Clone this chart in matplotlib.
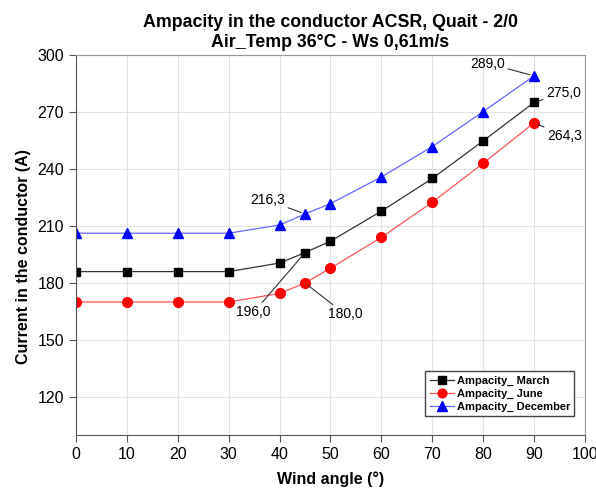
import matplotlib.pyplot as plt

plt.rcParams['font.family'] = ['Liberation Sans', 'DejaVu Sans']

# Data
angle = [0, 10, 20, 30, 40, 45, 50, 60, 70, 80, 90]
march = [186.0, 186.0, 186.0, 186.0, 190.5, 196.0, 202.0, 217.8, 235.0, 254.8, 275.0]
june = [170.0, 170.0, 170.0, 170.0, 174.5, 180.0, 187.8, 204.0, 222.5, 243.0, 264.3]
december = [206.2, 206.2, 206.2, 206.2, 210.5, 216.3, 221.8, 235.8, 251.8, 270.2, 289.0]

fig = plt.figure(figsize=(5.96, 4.9), dpi=100)
ax = fig.add_axes([0.1275, 0.1122, 0.854, 0.7756])

ax.plot(angle, march, color='#333333', lw=0.9, marker='s', ms=6, mfc='black', mec='black', label='Ampacity_ March')
ax.plot(angle, june, color='#ff5555', lw=0.9, marker='o', ms=7, mfc='red', mec='red', label='Ampacity_ June')
ax.plot(angle, december, color='#6666ff', lw=0.9, marker='^', ms=7.5, mfc='blue', mec='blue', label='Ampacity_ December')

ax.set_xlim(0, 100)
ax.set_ylim(100, 300)
ax.set_xticks(range(0, 101, 10))
ax.set_yticks(range(120, 301, 30))
ax.grid(True, color='#e3e3e3', lw=0.8)
ax.set_axisbelow(True)
for s in ax.spines.values():
    s.set_color('#999999')
ax.spines['left'].set_color('#555555')
ax.spines['bottom'].set_color('#555555')
ax.tick_params(direction='out', length=5, labelsize=11.5, color='#555555')

ax.set_xlabel('Wind angle (°)', fontsize=11.5, fontweight='bold', labelpad=7)
ax.set_ylabel('Current in the conductor (A)', fontsize=11.5, fontweight='bold')
ax.yaxis.set_label_coords(-0.088, 0.47)
ax.set_title('Ampacity in the conductor ACSR, Quait - 2/0\nAir_Temp 36°C - Ws 0,61m/s',
             fontsize=12.8, fontweight='bold', pad=6, linespacing=1.2)

# Annotations
arrow = dict(arrowstyle='-', color='#333333', lw=0.8, shrinkA=0, shrinkB=3)
ax.annotate('289,0', xy=(90, december[-1]), xytext=(77.5, 295.5), fontsize=10, va='center', arrowprops=arrow)
ax.annotate('275,0', xy=(90, march[-1]), xytext=(92.3, 280.0), fontsize=10, va='center', arrowprops=arrow)
ax.annotate('264,3', xy=(90, june[-1]), xytext=(92.5, 257.5), fontsize=10, va='center', arrowprops=arrow)
ax.annotate('216,3', xy=(45, december[5]), xytext=(34.3, 223.5), fontsize=10, va='center', arrowprops=arrow)
ax.annotate('196,0', xy=(45, march[5]), xytext=(31.5, 164.5), fontsize=10, va='center', arrowprops=arrow)
ax.annotate('180,0', xy=(45, june[5]), xytext=(49.5, 163.5), fontsize=10, va='center', arrowprops=arrow)

leg = ax.legend(loc='lower right', bbox_to_anchor=(0.99, 0.035), prop={'weight': 'bold', 'size': 8},
                fancybox=False, framealpha=1, edgecolor='#444444', handlelength=2.2,
                handletextpad=0.2, borderpad=0.4, labelspacing=0.25, markerscale=0.9)
leg.get_frame().set_linewidth(1.0)

fig.savefig('out.png', dpi=100)
